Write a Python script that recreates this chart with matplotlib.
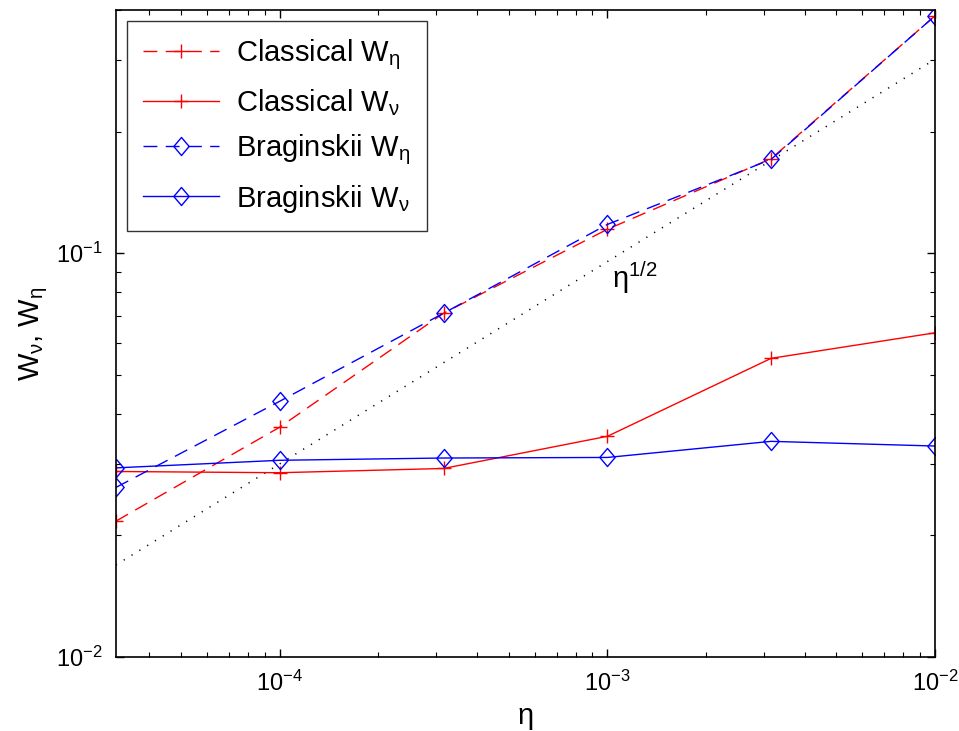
import matplotlib
matplotlib.use('Agg')
import matplotlib.pyplot as plt
from matplotlib.path import Path
import numpy as np

plt.rcParams['font.family'] = ['Liberation Sans', 'DejaVu Sans']
plt.rcParams['mathtext.default'] = 'regular'

# valeurs
eta = [3.16e-5, 1e-4, 3.16e-4, 1e-3, 3.16e-3, 1e-2]
clas_W_eta = [0.0217, 0.0371, 0.0710, 0.1146, 0.1714, 0.387]
clas_W_nu = [0.0288, 0.0286, 0.0293, 0.0352, 0.0549, 0.0635]
brag_W_eta = [0.0263, 0.0430, 0.0710, 0.1178, 0.1707, 0.387]
brag_W_nu = [0.0294, 0.0307, 0.0311, 0.0312, 0.0342, 0.0333]

# droite de reference eta^(1/2)
ref_x = [3.16e-5, 1e-2]
ref_y = [0.0169, 0.302]

# losange style matlab
diamant = Path([(0, 1), (0.85, 0), (0, -1), (-0.85, 0), (0, 1)],
               [Path.MOVETO, Path.LINETO, Path.LINETO, Path.LINETO, Path.CLOSEPOLY])

fig = plt.figure(figsize=(9.59, 7.31), dpi=100)
ax = fig.add_axes([0.121, 0.1012, 0.854, 0.8851])

ax.plot(ref_x, ref_y, color='k', lw=1.1, linestyle=(0, (0.8, 5.2)))
ax.plot(eta, clas_W_eta, color='r', lw=1.0, dashes=(10, 6), marker='+', ms=10,
        mew=1.0, label=r'Classical W$_\eta$')
ax.plot(eta, clas_W_nu, color='r', lw=1.0, marker='+', ms=10, mew=1.0,
        label=r'Classical W$_\nu$')
ax.plot(eta, brag_W_eta, color='b', lw=1.0, dashes=(10, 6), marker=diamant, ms=13,
        mew=1.0, mfc='none', label=r'Braginskii W$_\eta$')
ax.plot(eta, brag_W_nu, color='b', lw=1.0, marker=diamant, ms=13, mew=1.0,
        mfc='none', label=r'Braginskii W$_\nu$')

ax.set_xscale('log')
ax.set_yscale('log')
ax.set_xlim(10**-4.5, 1e-2)
ax.set_ylim(1e-2, 0.4)
ax.set_xticks([1e-4, 1e-3, 1e-2])
ax.set_yticks([1e-2, 1e-1])

ax.tick_params(which='both', direction='in', top=True, right=True, labelsize=17)
ax.tick_params(which='major', length=6, width=1.0, pad=10)
ax.tick_params(which='minor', length=3.5, width=0.8)
for s in ax.spines.values():
    s.set_linewidth(1.2)

ax.text(1.03e-3, 0.082, r'$\eta^{1/2}$', fontsize=21, va='baseline')

ax.set_xlabel(r'$\eta$', fontsize=21, labelpad=6)
ax.set_ylabel(r'W$_\nu$, W$_\eta$', fontsize=21, labelpad=4)

leg = ax.legend(loc='upper left', fontsize=21, frameon=True, fancybox=False,
                edgecolor='k', handlelength=2.6, borderaxespad=0.38,
                borderpad=0.55, labelspacing=0.52, handletextpad=0.6)
leg.get_frame().set_linewidth(1.0)

fig.savefig('out.png', dpi=100)
